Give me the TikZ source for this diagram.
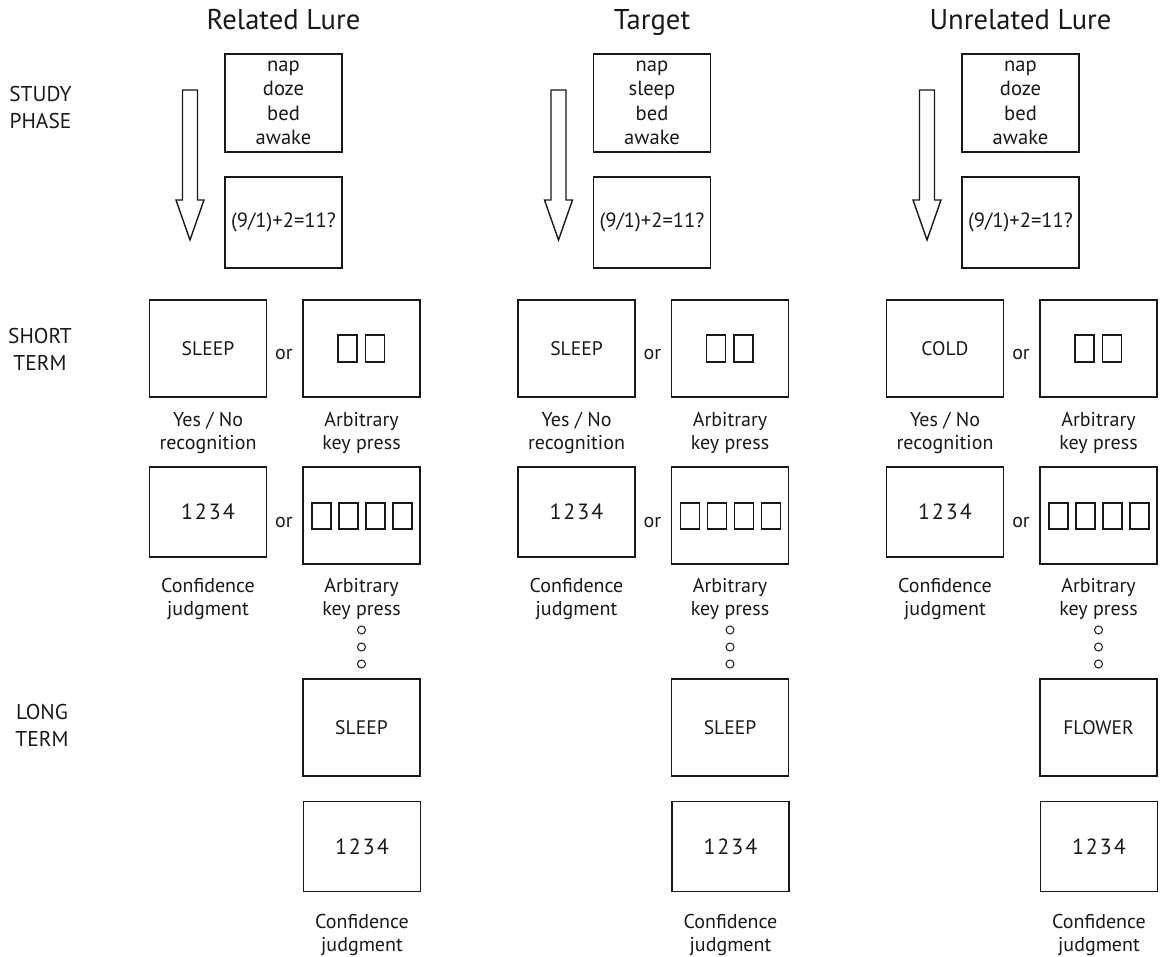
\documentclass[tikz,border=0pt]{standalone}
\usepackage{fontspec}
\setmainfont{PT Sans}
\usetikzlibrary{positioning}

\begin{document}
\begin{tikzpicture}[x=0.5pt, y=-0.5pt, color=black!90, line width=0.8pt,
    card/.style={draw, minimum width=58.5pt, minimum height=48.5pt, inner sep=0pt, align=center},
    lowcard/.style={card, minimum height=45pt},
    keysq/.style={draw, line width=0.6pt, minimum width=9.5pt, minimum height=13.5pt, inner sep=0pt},
    keysqs/.style={keysq, minimum height=13pt},
    dotmark/.style={draw, circle, line width=0.5pt, minimum size=4pt, inner sep=0pt},
    head/.style={font=\fontsize{14.3}{16}\selectfont, anchor=base, inner sep=0pt},
    phase/.style={font=\fontsize{10.7}{13.5}\selectfont, align=center, anchor=north, inner sep=0pt},
    note/.style={font=\fontsize{10}{11.5}\selectfont, align=center, inner sep=0pt},
    probe/.style={font=\fontsize{9.8}{11}\selectfont},
    digits/.style={font=\fontsize{11}{13}\selectfont},
    studylist/.style={font=\fontsize{10.3}{12.2}\selectfont},
    ornode/.style={font=\fontsize{10}{12}\selectfont, anchor=base, inner sep=0pt},
    blockarrow/.style={line width=0.7pt}]

    \useasboundingbox (0,0) rectangle (1168,957);

    % phase names on the left
    \node (study) [phase] at (40.5,85) {STUDY\\PHASE};
    \node (short) [phase] at (40,327) {SHORT\\TERM};
    \node (long) [phase] at (42,703) {LONG\\TERM};

    % related lure
    \node (relhead) [head] at (283.5,30) {Related Lure};
    \node (relwords) [card, studylist, minimum height=49pt] at (283.5,103) {nap\\doze\\bed\\awake};
    \node (relmath) [card, studylist, minimum height=45.5pt] at (283.5,222.5) {(9/1)+2=11?};
    \draw [blockarrow] (190,90) ++(-7.5,0) -- ++(15,0) -- ++(0,110) -- ++(6.5,0) -- ++(-14,40) -- ++(-14,-40) -- ++(6.5,0) -- cycle;
    \node (relprobe) [card, probe] at (208,348.5) {SLEEP};
    \node (relor1) [ornode] at (284,360) {or};
    \node (relkeya) [card] at (361.5,348.5) {};
    \node (relka1) [keysq] at (347.5,348.5) {};
    \node (relka2) [keysq] at (375,348.5) {};
    \node (relyes) [note, below=7pt of relprobe] {Yes / No\\recognition};
    \node (relarb1) [note, below=7pt of relkeya] {Arbitrary\\key press};
    \node (relconf) [lowcard, digits] at (208,512) {1\kern1pt2\kern1pt3\kern1pt4};
    \node (relor2) [ornode] at (284,527) {or};
    \node (relkeyb) [card] at (361.5,515.5) {};
    \node (relkb1) [keysqs] at (321.5,516) {};
    \node (relkb2) [keysqs] at (348.5,516) {};
    \node (relkb3) [keysqs] at (375.5,516) {};
    \node (relkb4) [keysqs] at (402.5,516) {};
    \node (relconfn) [note, below=10pt of relconf] {Confidence\\judgment};
    \node (relarb2) [note, below=6.5pt of relkeyb] {Arbitrary\\key press};
    \node (reldot1) [dotmark] at (361.5,630) {};
    \node (reldot2) [dotmark] at (361.5,647) {};
    \node (reldot3) [dotmark] at (361.5,664) {};
    \node (rellong) [card, probe] at (361.5,727.5) {SLEEP};
    \node (rellongconf) [lowcard, digits] at (362,846.5) {1\kern1pt2\kern1pt3\kern1pt4};
    \node (rellongn) [note, below=10.5pt of rellongconf] {Confidence\\judgment};

    % target
    \node (tgthead) [head] at (652,30) {Target};
    \node (tgtwords) [card, studylist, minimum height=49pt] at (652,103) {nap\\sleep\\bed\\awake};
    \node (tgtmath) [card, studylist, minimum height=45.5pt] at (652,222.5) {(9/1)+2=11?};
    \draw [blockarrow] (558.5,90) ++(-7.5,0) -- ++(15,0) -- ++(0,110) -- ++(6.5,0) -- ++(-14,40) -- ++(-14,-40) -- ++(6.5,0) -- cycle;
    \node (tgtprobe) [card, probe] at (576.5,348.5) {SLEEP};
    \node (tgtor1) [ornode] at (652.5,360) {or};
    \node (tgtkeya) [card] at (730,348.5) {};
    \node (tgtka1) [keysq] at (716,348.5) {};
    \node (tgtka2) [keysq] at (743.5,348.5) {};
    \node (tgtyes) [note, below=7pt of tgtprobe] {Yes / No\\recognition};
    \node (tgtarb1) [note, below=7pt of tgtkeya] {Arbitrary\\key press};
    \node (tgtconf) [lowcard, digits] at (576.5,512) {1\kern1pt2\kern1pt3\kern1pt4};
    \node (tgtor2) [ornode] at (652.5,527) {or};
    \node (tgtkeyb) [card] at (730,515.5) {};
    \node (tgtkb1) [keysqs] at (690,516) {};
    \node (tgtkb2) [keysqs] at (717,516) {};
    \node (tgtkb3) [keysqs] at (744,516) {};
    \node (tgtkb4) [keysqs] at (771,516) {};
    \node (tgtconfn) [note, below=10pt of tgtconf] {Confidence\\judgment};
    \node (tgtarb2) [note, below=6.5pt of tgtkeyb] {Arbitrary\\key press};
    \node (tgtdot1) [dotmark] at (730,630) {};
    \node (tgtdot2) [dotmark] at (730,647) {};
    \node (tgtdot3) [dotmark] at (730,664) {};
    \node (tgtlong) [card, probe] at (730,727.5) {SLEEP};
    \node (tgtlongconf) [lowcard, digits] at (730.5,846.5) {1\kern1pt2\kern1pt3\kern1pt4};
    \node (tgtlongn) [note, below=10.5pt of tgtlongconf] {Confidence\\judgment};

    % unrelated lure
    \node (unrhead) [head] at (1020.5,30) {Unrelated Lure};
    \node (unrwords) [card, studylist, minimum height=49pt] at (1020.5,103) {nap\\doze\\bed\\awake};
    \node (unrmath) [card, studylist, minimum height=45.5pt] at (1020.5,222.5) {(9/1)+2=11?};
    \draw [blockarrow] (927,90) ++(-7.5,0) -- ++(15,0) -- ++(0,110) -- ++(6.5,0) -- ++(-14,40) -- ++(-14,-40) -- ++(6.5,0) -- cycle;
    \node (unrprobe) [card, probe] at (945,348.5) {COLD};
    \node (unror1) [ornode] at (1021,360) {or};
    \node (unrkeya) [card] at (1098.5,348.5) {};
    \node (unrka1) [keysq] at (1084.5,348.5) {};
    \node (unrka2) [keysq] at (1112,348.5) {};
    \node (unryes) [note, below=7pt of unrprobe] {Yes / No\\recognition};
    \node (unrarb1) [note, below=7pt of unrkeya] {Arbitrary\\key press};
    \node (unrconf) [lowcard, digits] at (945,512) {1\kern1pt2\kern1pt3\kern1pt4};
    \node (unror2) [ornode] at (1021,527) {or};
    \node (unrkeyb) [card] at (1098.5,515.5) {};
    \node (unrkb1) [keysqs] at (1058.5,516) {};
    \node (unrkb2) [keysqs] at (1085.5,516) {};
    \node (unrkb3) [keysqs] at (1112.5,516) {};
    \node (unrkb4) [keysqs] at (1139.5,516) {};
    \node (unrconfn) [note, below=10pt of unrconf] {Confidence\\judgment};
    \node (unrarb2) [note, below=6.5pt of unrkeyb] {Arbitrary\\key press};
    \node (unrdot1) [dotmark] at (1098.5,630) {};
    \node (unrdot2) [dotmark] at (1098.5,647) {};
    \node (unrdot3) [dotmark] at (1098.5,664) {};
    \node (unrlong) [card, probe] at (1098.5,727.5) {FLOWER};
    \node (unrlongconf) [lowcard, digits] at (1099,846.5) {1\kern1pt2\kern1pt3\kern1pt4};
    \node (unrlongn) [note, below=10.5pt of unrlongconf] {Confidence\\judgment};

\end{tikzpicture}
\end{document}
